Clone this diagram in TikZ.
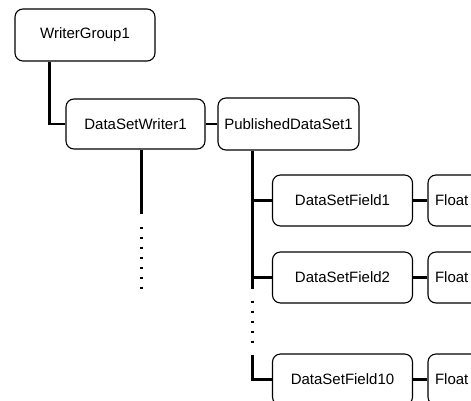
\documentclass[tikz,border=0pt]{standalone}
\usepackage{fontspec}
\setmainfont{Liberation Sans}
\usetikzlibrary{calc}
\begin{document}
\begin{tikzpicture}[x=1pt,y=-1pt,
  box/.style={draw=black,line width=1.1pt,rounded corners=8pt,inner sep=0pt,
    font=\fontsize{15}{18}\selectfont},
  wide/.style={box,minimum width=140pt,minimum height=51pt},
  floatbox/.style={box,minimum width=140pt,minimum height=51pt,text width=126pt,align=left},
  conn/.style={line width=2.4pt},
  dotline/.style={line width=2.2pt,dash pattern=on 2pt off 8pt}]
\useasboundingbox (0,0) rectangle (471,400);
\begin{scope}
\clip (0,0) rectangle (471,400);
\node[box,minimum width=140pt,minimum height=52pt] (wg) at (85,35) {WriterGroup1};
\node[box,minimum width=139pt,minimum height=50pt] (dsw) at (135.5,124) {DataSetWriter1};
\node[box,minimum width=141pt,minimum height=52pt] (pds) at (288.5,124) {PublishedDataSet1};
\node[wide] (f1) at (342.5,200.5) {DataSetField1};
\node[wide] (f2) at (342.5,277.5) {DataSetField2};
\node[wide] (f10) at (342.5,379.5) {DataSetField10};
\node[floatbox] (v1) at (498,200.5) {Float};
\node[floatbox] (v2) at (498,277.5) {Float};
\node[floatbox] (v10) at (498,379.5) {Float};

\coordinate (wgdrop) at ($(wg.south west)+(35,0)$);
\draw[conn] (wgdrop) |- (dsw.west);
\draw[conn] (dsw.east) -- (pds.west);

\coordinate (dswdrop) at ($(dsw.south west)+(76,0)$);
\coordinate (dswend) at ($(dswdrop)+(0,64)$);
\coordinate (dswdots) at ($(dswdrop)+(0,77)$);
\coordinate (dswdotsend) at ($(dswdrop)+(0,139)$);
\draw[conn] (dswdrop) -- (dswend);
\draw[dotline] (dswdots) -- (dswdotsend);

\coordinate (pdsdrop) at ($(pds.south west)+(35,0)$);
\coordinate (pdsend) at ($(pdsdrop)+(0,138)$);
\draw[conn] (pdsdrop) -- (pdsend);
\draw[conn] (pdsdrop |- f1.west) -- (f1.west);
\draw[conn] (pdsdrop |- f2.west) -- (f2.west);
\coordinate (pdsdots) at ($(pdsdrop)+(0,150)$);
\coordinate (pdsdotsend) at ($(pdsdrop)+(0,192)$);
\draw[dotline] (pdsdots) -- (pdsdotsend);
\coordinate (pdsresume) at ($(pdsdrop)+(0,204)$);
\draw[conn] (pdsresume) |- (f10.west);

\draw[conn] (f1.east) -- (v1.west);
\draw[conn] (f2.east) -- (v2.west);
\draw[conn] (f10.east) -- (v10.west);
\end{scope}
\end{tikzpicture}
\end{document}
